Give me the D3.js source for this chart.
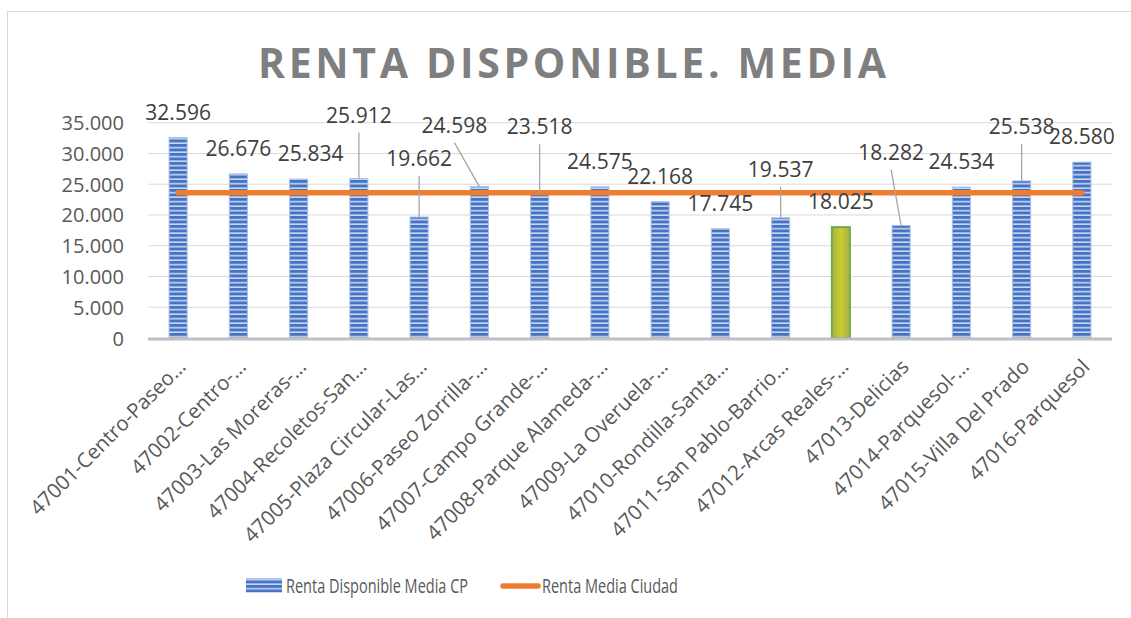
<!DOCTYPE html>
<html>
<head>
<meta charset="utf-8">
<script src="https://cdn.jsdelivr.net/npm/d3@7"></script>
<style>
  body { margin: 0; background: #fff; }
  svg { display: block; font-family: "Open Sans", "Noto Sans", sans-serif; }
</style>
</head>
<body>
<svg id="chart" width="1131" height="618"></svg>
<script>
// datos
const categorias = [
  '47001-Centro-Paseo…', '47002-Centro-…', '47003-Las Moreras-…', '47004-Recoletos-San…',
  '47005-Plaza Circular-Las…', '47006-Paseo Zorrilla-…', '47007-Campo Grande-…', '47008-Parque Alameda-…',
  '47009-La Overuela-…', '47010-Rondilla-Santa…', '47011-San Pablo-Barrio…', '47012-Arcas Reales-…',
  '47013-Delicias', '47014-Parquesol-…', '47015-Villa Del Prado', '47016-Parquesol'
]
const rentaCP = [32596, 26676, 25834, 25912, 19662, 24598, 23518, 24575, 22168, 17745, 19537, 18025, 18282, 24534, 25538, 28580]
const rentaCiudad = 23620
const destacado = '47012-Arcas Reales-…'
const ticks = [0, 5000, 10000, 15000, 20000, 25000, 30000, 35000]
const titulo = 'RENTA DISPONIBLE. MEDIA'
const series = ['Renta Disponible Media CP', 'Renta Media Ciudad']

// desplazamiento de etiquetas movidas a mano (px)
const labelOffsets = [[0,0],[0,0],[12,0],[0,-38],[0,-33],[-25,-36],[0,-41],[0,0],
                      [0,0],[0,0],[0,-23],[0,0],[-10,-48],[0,0],[0,-29],[0,0]]

const fmt = d3.formatLocale({ decimal: ',', thousands: '.', grouping: [3], currency: ['', '€'] }).format(',.0f')

const svg = d3.select('#chart')
const defs = svg.append('defs')

const pat = defs.append('pattern')
  .attr('id', 'rayas').attr('patternUnits', 'userSpaceOnUse')
  .attr('width', 10).attr('height', 4.5)
pat.append('rect').attr('width', 10).attr('height', 4.5).attr('fill', '#4472c4')
pat.append('rect').attr('y', 3).attr('width', 10).attr('height', 1.4).attr('fill', '#dbe4f5')

const grad = defs.append('linearGradient').attr('id', 'verde')
grad.append('stop').attr('offset', '0%').attr('stop-color', '#a3b04a')
grad.append('stop').attr('offset', '50%').attr('stop-color', '#cccd2c')
grad.append('stop').attr('offset', '100%').attr('stop-color', '#a3b04a')

// marco
svg.append('rect')
  .attr('x', 7.5).attr('y', 11.5).attr('width', 1200).attr('height', 700)
  .attr('fill', 'none').attr('stroke', '#d9d9d9')

svg.append('text')
  .attr('x', 572).attr('y', 77.5)
  .attr('text-anchor', 'middle')
  .attr('font-size', 41).attr('font-weight', 'bold')
  .attr('fill', '#7f7f7f')
  .attr('textLength', 628).attr('lengthAdjust', 'spacing')
  .text(titulo)

const x = d3.scaleBand().domain(categorias).range([148, 1112]).paddingInner(0.7).paddingOuter(0.35)
const y = d3.scaleLinear().domain([0, 35000]).range([338, 122.7])

// rejilla
svg.append('g').selectAll('line').data(ticks.slice(1)).enter().append('line')
  .attr('x1', 148).attr('x2', 1112)
  .attr('y1', d => y(d)).attr('y2', d => y(d))
  .attr('stroke', '#d9d9d9').attr('stroke-width', 1)

const yAxis = svg.append('g').attr('transform', 'translate(124,0)')
  .call(d3.axisLeft(y).tickValues(ticks).tickFormat(fmt).tickSize(0).tickPadding(0))
yAxis.select('.domain').remove()
yAxis.selectAll('text').attr('font-size', 20).attr('fill', '#595959')
  .attr('font-family', '"Open Sans", sans-serif').attr('dy', '0.35em')

// barras
svg.append('g').selectAll('rect').data(rentaCP).enter().append('rect')
  .attr('x', (d, i) => x(categorias[i]))
  .attr('y', d => y(d))
  .attr('width', x.bandwidth())
  .attr('height', d => y(0) - y(d))
  .attr('fill', (d, i) => categorias[i] === destacado ? 'url(#verde)' : 'url(#rayas)')
  .attr('stroke', (d, i) => categorias[i] === destacado ? '#70ad47' : '#a9bfe6')
  .attr('stroke-width', (d, i) => categorias[i] === destacado ? 2 : 1)

// eje x
svg.append('line')
  .attr('x1', 148).attr('x2', 1112).attr('y1', y(0) + 1).attr('y2', y(0) + 1)
  .attr('stroke', '#bfbfbf').attr('stroke-width', 3)

svg.append('g').selectAll('text').data(categorias).enter().append('text')
  .attr('transform', d => `translate(${x(d) + x.bandwidth() / 2 + 9},${y(0) + 30}) rotate(-45)`)
  .attr('text-anchor', 'end')
  .attr('font-size', 20.5).attr('fill', '#595959')
  .text(d => d)

// linea ciudad
svg.append('path')
  .datum(categorias)
  .attr('d', d3.line().x(d => x(d) + x.bandwidth() / 2).y(() => y(rentaCiudad)))
  .attr('fill', 'none').attr('stroke', '#ed7d31').attr('stroke-width', 5.5)
  .attr('stroke-linecap', 'round')

// etiquetas
const lab = rentaCP.map((v, i) => {
  const cx = x(categorias[i]) + x.bandwidth() / 2
  return { v, cx, top: y(v), lx: cx + labelOffsets[i][0], ly: y(v) - 25.5 + labelOffsets[i][1], moved: labelOffsets[i][1] < -10 }
})

svg.append('g').selectAll('line').data(lab.filter(d => d.moved)).enter().append('line')
  .attr('x1', d => d.lx).attr('y1', d => d.ly + 17.5)
  .attr('x2', d => d.cx).attr('y2', d => d.top)
  .attr('stroke', '#a6a6a6').attr('stroke-width', 1.3)

svg.append('g').selectAll('text').data(lab).enter().append('text')
  .attr('x', d => d.lx).attr('y', d => d.ly)
  .attr('dy', '0.36em')
  .attr('text-anchor', 'middle')
  .attr('font-size', 21).attr('fill', '#404040')
  .text(d => fmt(d.v))

// leyenda
const leg = svg.append('g')
leg.append('rect').attr('x', 246).attr('y', 578.5).attr('width', 36).attr('height', 14)
  .attr('fill', 'url(#rayas)')
leg.append('text').attr('x', 286).attr('y', 586).attr('dy', '0.35em')
  .attr('font-size', 19.5).attr('fill', '#595959')
  .attr('textLength', 182).attr('lengthAdjust', 'spacingAndGlyphs').text(series[0])
leg.append('line').attr('x1', 503).attr('x2', 538).attr('y1', 586).attr('y2', 586)
  .attr('stroke', '#ed7d31').attr('stroke-width', 5.5).attr('stroke-linecap', 'round')
leg.append('text').attr('x', 542).attr('y', 586).attr('dy', '0.35em')
  .attr('font-size', 19.5).attr('fill', '#595959')
  .attr('textLength', 136).attr('lengthAdjust', 'spacingAndGlyphs').text(series[1])
</script>
</body>
</html>
